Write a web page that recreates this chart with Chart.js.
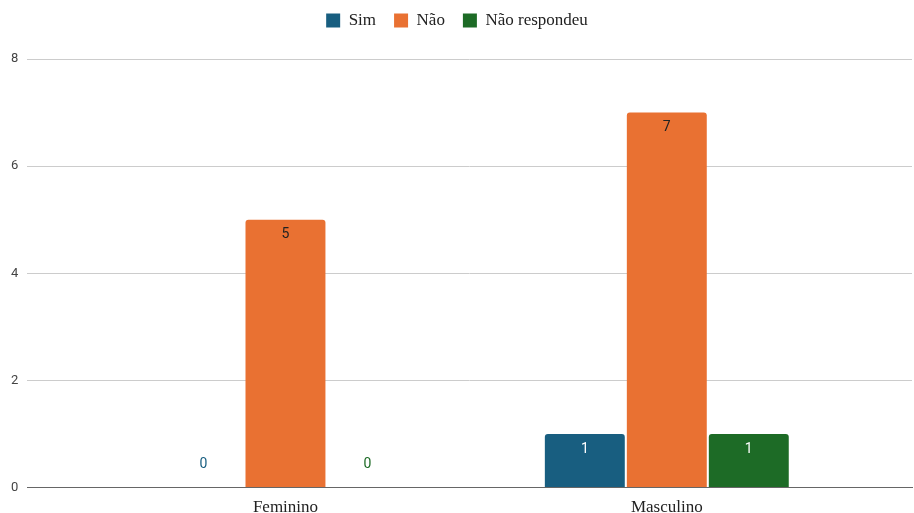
<!DOCTYPE html>
<html><head><meta charset="utf-8">
<script src="https://cdn.jsdelivr.net/npm/chart.js@4/dist/chart.umd.min.js"></script>
<style>html,body{margin:0;padding:0;background:#fff}#wrap{width:914px;height:513px}</style>
</head><body><div id="wrap"><canvas id="c" width="914" height="513"></canvas></div>
<script>
const categories = ['Feminino', 'Masculino'];
const seriesNames = ['Sim', 'Não', 'Não respondeu'];
const simValues = [0, 1];
const naoValues = [5, 7];
const naoRespondeuValues = [0, 1];
const yTicks = [0, 2, 4, 6, 8];

const colors = ['#185e80', '#e97132', '#1d6b26'];
const labelColors = ['#ffffff', '#222222', '#ffffff'];

const valueLabels = {
  id: 'valueLabels',
  afterDatasetsDraw(chart) {
    const ctx = chart.ctx;
    ctx.save();
    ctx.font = '14px Roboto';
    ctx.textAlign = 'center';
    ctx.textBaseline = 'middle';
    chart.data.datasets.forEach((ds, di) => {
      const meta = chart.getDatasetMeta(di);
      meta.data.forEach((el, i) => {
        const v = ds.data[i];
        if (v > 0) {
          ctx.fillStyle = labelColors[di];
          ctx.fillText(String(v), el.x, el.y + 15);
        } else {
          ctx.fillStyle = colors[di];
          ctx.fillText(String(v), el.x, el.y - 23);
        }
      });
    });
    ctx.restore();
  }
};

const legendMargin = {
  id: 'legendMargin',
  beforeInit(chart) {
    const fit = chart.legend.fit;
    chart.legend.fit = function () { fit.bind(chart.legend)(); this.height += 20; };
  }
};

new Chart(document.getElementById('c'), {
  type: 'bar',
  data: {
    labels: categories.map((_, i) => i),
    datasets: [
      { label: seriesNames[0], data: simValues, backgroundColor: colors[0] },
      { label: seriesNames[1], data: naoValues, backgroundColor: colors[1] },
      { label: seriesNames[2], data: naoRespondeuValues, backgroundColor: colors[2] }
    ]
  },
  plugins: [valueLabels, legendMargin],
  options: {
    responsive: false,
    animation: false,
    devicePixelRatio: 1,
    categoryPercentage: 0.645,
    barPercentage: 0.975,
    borderRadius: { topLeft: 3, topRight: 3 },
    borderSkipped: 'bottom',
    layout: { padding: { left: 2, right: 2, top: -6, bottom: -7 } },
    plugins: {
      legend: {
        position: 'top',
        labels: {
          boxWidth: 14, boxHeight: 14, padding: 18, color: '#222',
          font: { family: 'Liberation Serif', size: 17 }
        }
      },
      tooltip: { enabled: false }
    },
    scales: {
      x: {
        type: 'linear',
        offset: false,
        min: -0.677, max: 1.643,
        afterBuildTicks(scale) { scale.ticks = categories.map((_, i) => ({ value: i })); },
        ticks: {
          callback: (v) => categories[v] ?? '',
          color: '#222',
          font: { family: 'Liberation Serif', size: 17 },
          padding: 2,
          maxRotation: 0
        },
        grid: { display: false, offset: false },
        border: { display: true, color: '#666', width: 1 }
      },
      y: {
        min: 0, max: 8,
        afterBuildTicks(scale) { scale.ticks = yTicks.map(v => ({ value: v })); },
        ticks: { color: '#444', font: { family: 'Roboto', size: 13 }, padding: 9 },
        grid: { color: (c) => c.tick && c.tick.value === 0 ? '#666' : '#cccccc', drawTicks: false },
        border: { display: false }
      }
    }
  }
});
</script></body></html>
